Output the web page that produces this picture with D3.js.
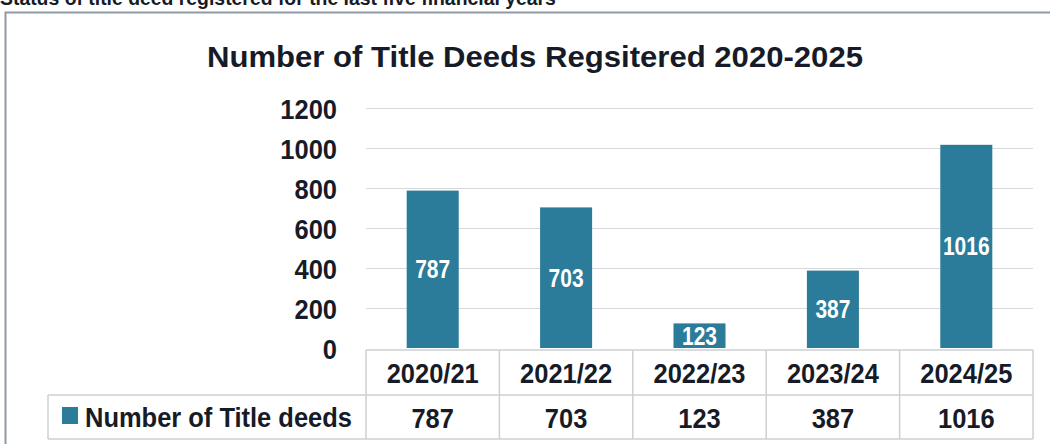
<!DOCTYPE html>
<html>
<head>
<meta charset="utf-8">
<script src="https://cdn.jsdelivr.net/npm/d3@7"></script>
<style>
  html, body { margin: 0; padding: 0; background: #fff; }
  svg { display: block; }
  text { font-family: "Liberation Sans", Arial, sans-serif; font-weight: bold; }
</style>
</head>
<body>
<svg id="chart" width="1050" height="444"></svg>
<script>
// Title deeds registered per financial year
const categories = ["2020/21", "2021/22", "2022/23", "2023/24", "2024/25"];
const deeds = [787, 703, 123, 387, 1016];
const seriesName = "Number of Title deeds";
const yTicks = [0, 200, 400, 600, 800, 1000, 1200];
const chartTitle = "Number of Title Deeds Regsitered 2020-2025";
const caption = "Status of title deed registered for the last five financial years";

const W = 1050, H = 444;
const barColor = "#2b7c9a";
const inkColor = "#161b27";
const gridColor = "#d6d8da";
const tableColor = "#cdd0d3";
const squeeze = 0.91;

const plot = { left: 366, right: 1033, top: 108, bottom: 348 };
const table = { top: 350, mid: 395, bottom: 439, legendLeft: 48 };

const svg = d3.select("#chart");

const x = d3.scaleBand().domain(categories).range([plot.left, plot.right]).padding(0);
const y = d3.scaleLinear().domain([0, 1200]).range([plot.bottom, plot.top]);
const barW = x.bandwidth() * 0.39;

// Helper: condensed bold text placed at (px, py)
function label(g, str, px, py, size, anchor, fill, sx) {
  return g.append("text")
    .attr("transform", `translate(${px},${py}) scale(${sx || squeeze},1)`)
    .attr("text-anchor", anchor)
    .attr("font-size", size)
    .attr("fill", fill || inkColor)
    .text(str);
}

// Section caption above the frame, running off the top edge
label(svg, caption, 0, 5, 20, "start", inkColor, 0.97);

// Outer frame
svg.append("path")
  .attr("d", `M5.5,${H} V12.5 H${W}`)
  .attr("fill", "none")
  .attr("stroke", "#8e9aa6")
  .attr("stroke-width", 2);

// Chart title
svg.append("text")
  .attr("x", 535).attr("y", 67)
  .attr("text-anchor", "middle")
  .attr("font-size", 30)
  .attr("fill", inkColor)
  .attr("textLength", 656)
  .attr("lengthAdjust", "spacingAndGlyphs")
  .text(chartTitle);

// Gridlines and y-axis labels
const yAxis = d3.axisLeft(y)
  .tickValues(yTicks)
  .tickSize(-(plot.right - plot.left))
  .tickFormat(d3.format("d"));

const yg = svg.append("g")
  .attr("transform", `translate(${plot.left},0)`)
  .call(yAxis);
yg.select(".domain").remove();
yg.selectAll(".tick line")
  .attr("stroke", gridColor)
  .attr("stroke-width", 1.2)
  .filter(d => d === 0).remove();
yg.selectAll(".tick text")
  .attr("x", -29 / squeeze)
  .attr("dy", "0.36em")
  .attr("transform", `scale(${squeeze},1)`)
  .attr("font-size", 28)
  .attr("font-family", "\"Liberation Sans\", Arial, sans-serif")
  .attr("font-weight", "bold")
  .attr("fill", inkColor);

// Bars
svg.append("g").selectAll("rect")
  .data(deeds)
  .join("rect")
  .attr("x", (d, i) => x(categories[i]) + (x.bandwidth() - barW) / 2)
  .attr("y", d => y(d))
  .attr("width", barW)
  .attr("height", d => y(0) - y(d))
  .attr("fill", barColor);

// Value labels inside the bars
const barLabels = svg.append("g");
deeds.forEach((d, i) => {
  const cx = x(categories[i]) + x.bandwidth() / 2;
  const cy = (y(d) + y(0)) / 2 + 9;
  label(barLabels, String(d), cx, cy, 25, "middle", "#ffffff", 0.84);
});

// Data table under the axis
const tg = svg.append("g");
const edges = categories.map(c => x(c)).concat([plot.right]);

tg.append("line")
  .attr("x1", plot.left).attr("x2", plot.right)
  .attr("y1", table.top).attr("y2", table.top)
  .attr("stroke", tableColor).attr("stroke-width", 1.5);
tg.append("line")
  .attr("x1", table.legendLeft).attr("x2", plot.right)
  .attr("y1", table.mid).attr("y2", table.mid)
  .attr("stroke", tableColor).attr("stroke-width", 1.5);
tg.append("line")
  .attr("x1", table.legendLeft).attr("x2", plot.right)
  .attr("y1", table.bottom).attr("y2", table.bottom)
  .attr("stroke", tableColor).attr("stroke-width", 1.5);
tg.append("line")
  .attr("x1", table.legendLeft).attr("x2", table.legendLeft)
  .attr("y1", table.mid).attr("y2", table.bottom)
  .attr("stroke", tableColor).attr("stroke-width", 1.5);
tg.selectAll("line.col")
  .data(edges)
  .join("line")
  .attr("class", "col")
  .attr("x1", d => d).attr("x2", d => d)
  .attr("y1", table.top).attr("y2", table.bottom)
  .attr("stroke", tableColor).attr("stroke-width", 1.5);

categories.forEach((c, i) => {
  const cx = x(c) + x.bandwidth() / 2;
  label(tg, c, cx, 383, 28, "middle");
  label(tg, String(deeds[i]), cx, 428, 28, "middle");
});

// Legend entry in the table
tg.append("rect")
  .attr("x", 62).attr("y", 407)
  .attr("width", 16).attr("height", 17)
  .attr("fill", barColor);
label(tg, seriesName, 85, 427, 28, "start");
</script>
</body>
</html>
